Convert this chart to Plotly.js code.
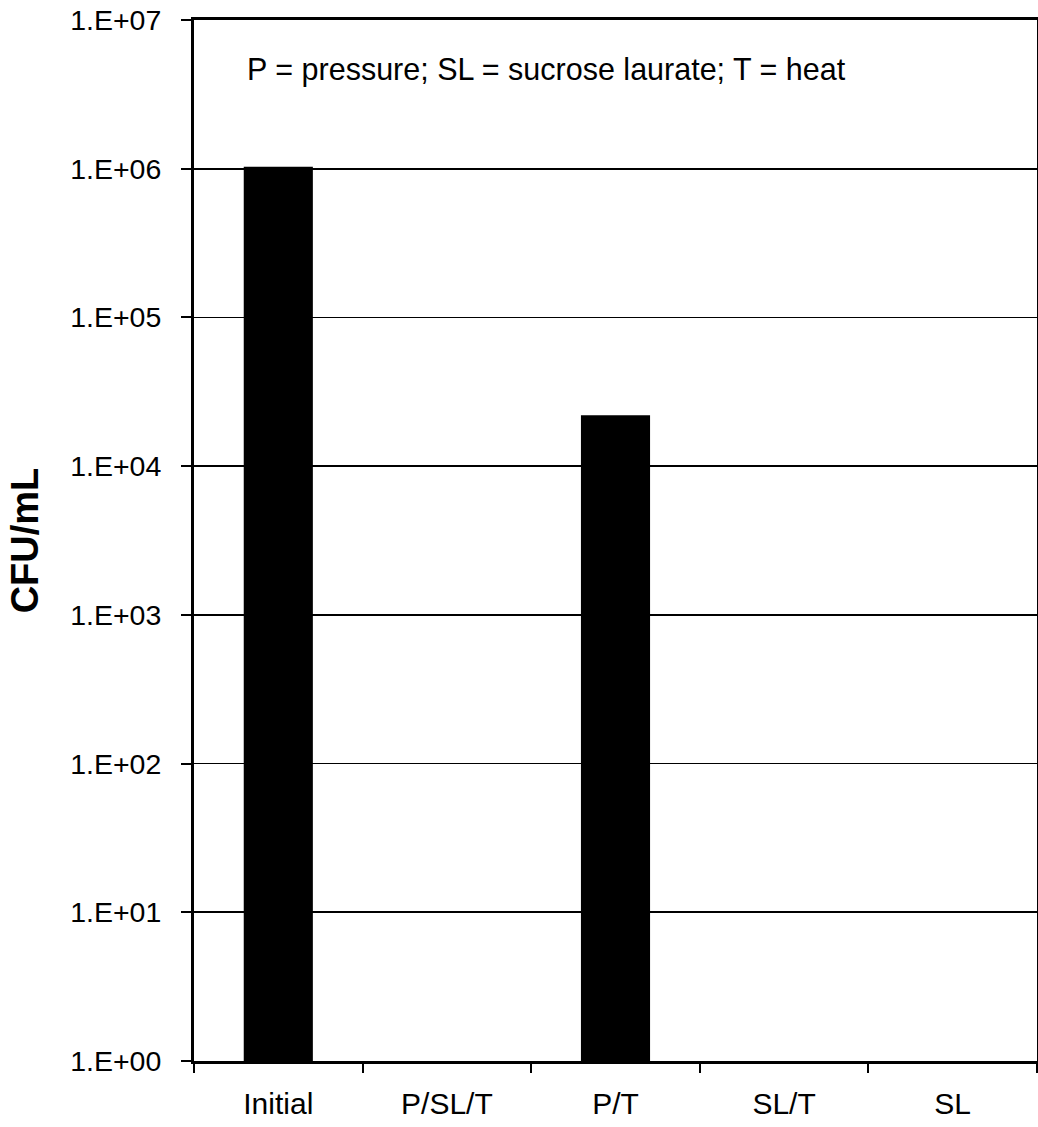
<!DOCTYPE html>
<html>
<head>
<meta charset="utf-8">
<script src="https://cdn.plot.ly/plotly-3.0.1.min.js"></script>
<style>
  html, body { margin: 0; padding: 0; background: #ffffff; }
  #chart { width: 1038px; height: 1127px; }
</style>
</head>
<body>
<div id="chart"></div>
<script>
// Treatments and surviving counts (CFU/mL); empty treatments have no detectable growth
const treatments = ['Initial', 'P/SL/T', 'P/T', 'SL/T', 'SL'];
const cfuPerMl = [1.03e6, null, 2.2e4, null, null];

// Log-axis decade ticks and their labels
const decadeTicks = [1, 10, 100, 1e3, 1e4, 1e5, 1e6, 1e7];
const decadeLabels = ['1.E+00', '1.E+01', '1.E+02', '1.E+03', '1.E+04', '1.E+05', '1.E+06', '1.E+07'];

const legendNote = 'P = pressure; SL = sucrose laurate; T = heat';

const fontFamily = '"Liberation Sans", Arial, Helvetica, sans-serif';

const trace = {
  type: 'bar',
  x: treatments,
  y: cfuPerMl,
  marker: { color: '#000000', line: { width: 0 } },
  width: 0.41,
  hoverinfo: 'x+y'
};

const layout = {
  width: 1038,
  height: 1127,
  margin: { l: 194, r: 1, t: 20, b: 66 },
  paper_bgcolor: '#ffffff',
  plot_bgcolor: '#ffffff',
  showlegend: false,
  font: { family: fontFamily, color: '#000000', size: 28 },
  xaxis: {
    type: 'category',
    tickson: 'boundaries',
    ticks: 'outside',
    ticklen: 9,
    tickwidth: 2,
    tickcolor: '#000000',
    showline: true,
    linecolor: '#000000',
    linewidth: 3,
    mirror: true,
    showgrid: false,
    zeroline: false,
    tickfont: { family: fontFamily, size: 30, color: '#000000' },
    ticklabelstandoff: 14
  },
  yaxis: {
    type: 'log',
    range: [0, 7],
    tickvals: decadeTicks,
    ticktext: decadeLabels,
    ticks: 'outside',
    ticklen: 10,
    tickwidth: 2,
    tickcolor: '#000000',
    showline: true,
    linecolor: '#000000',
    linewidth: 3,
    mirror: true,
    showgrid: true,
    gridcolor: '#000000',
    gridwidth: 1.8,
    zeroline: false,
    tickfont: { family: fontFamily, size: 28.5, color: '#000000' },
    ticklabelstandoff: 14,
    title: {
      text: '<b>CFU/mL</b>',
      font: { family: fontFamily, size: 38, color: '#000000' },
      standoff: 20
    }
  },
  annotations: [{
    text: legendNote,
    xref: 'paper', yref: 'paper',
    x: 0.06, y: 0.952,
    xanchor: 'left', yanchor: 'middle',
    showarrow: false,
    font: { family: fontFamily, size: 30.5, color: '#000000' }
  }]
};

Plotly.newPlot('chart', [trace], layout, { displayModeBar: false, staticPlot: true });
</script>
</body>
</html>
